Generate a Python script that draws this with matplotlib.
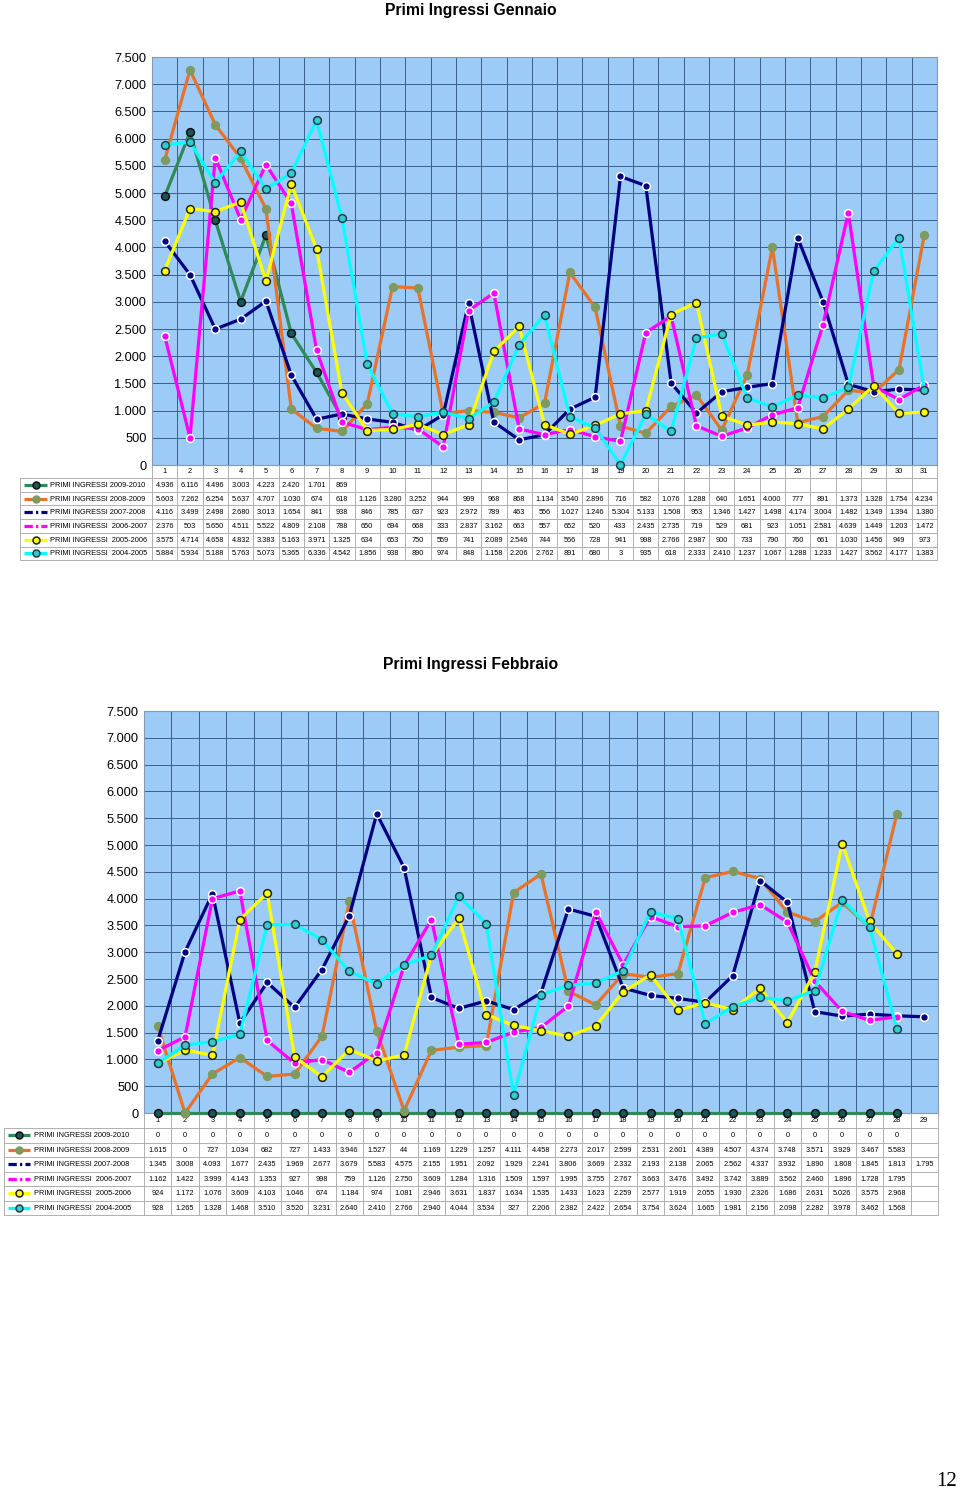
import matplotlib.pyplot as plt
import numpy as np

plt.rcParams['font.family'] = ['Liberation Sans', 'DejaVu Sans']

# ---- data ----
labels = ["PRIMI INGRESSI 2009-2010", "PRIMI INGRESSI 2008-2009", "PRIMI INGRESSI 2007-2008",
          "PRIMI INGRESSI  2006-2007", "PRIMI INGRESSI  2005-2006", "PRIMI INGRESSI  2004-2005"]

gen_0910 = [4936, 6116, 4496, 3003, 4223, 2420, 1701, 869]
gen_0809 = [5603, 7262, 6254, 5637, 4707, 1030, 674, 618, 1126, 3280, 3252, 944, 999, 968, 868, 1134,
            3540, 2896, 716, 582, 1076, 1288, 640, 1651, 4000, 777, 891, 1373, 1328, 1754, 4234]
gen_0708 = [4116, 3499, 2498, 2680, 3013, 1654, 841, 938, 846, 785, 637, 923, 2972, 789, 463, 556,
            1027, 1246, 5304, 5133, 1508, 953, 1346, 1427, 1498, 4174, 3004, 1482, 1349, 1394, 1380]
gen_0607 = [2376, 503, 5650, 4511, 5522, 4809, 2108, 788, 650, 694, 668, 333, 2837, 3162, 663, 557,
            652, 520, 433, 2435, 2735, 719, 529, 681, 923, 1051, 2581, 4639, 1449, 1203, 1472]
gen_0506 = [3575, 4714, 4658, 4832, 3383, 5163, 3971, 1325, 634, 653, 750, 559, 741, 2089, 2546, 744,
            566, 728, 941, 998, 2766, 2987, 900, 733, 790, 760, 661, 1030, 1456, 949, 973]
gen_0405 = [5884, 5934, 5188, 5763, 5073, 5365, 6336, 4542, 1856, 938, 890, 974, 848, 1158, 2206, 2762,
            891, 680, 3, 935, 618, 2333, 2410, 1237, 1067, 1288, 1233, 1427, 3562, 4177, 1383]

feb_0910 = [0] * 28
feb_0809 = [1615, 0, 727, 1034, 682, 727, 1433, 3946, 1527, 44, 1169, 1229, 1257, 4111, 4458, 2273,
            2017, 2599, 2531, 2601, 4389, 4507, 4374, 3748, 3571, 3929, 3467, 5583]
feb_0708 = [1345, 3008, 4093, 1677, 2435, 1969, 2677, 3679, 5583, 4575, 2155, 1951, 2092, 1929, 2241,
            3806, 3669, 2332, 2193, 2138, 2065, 2562, 4337, 3932, 1890, 1808, 1845, 1813, 1795]
feb_0607 = [1162, 1422, 3999, 4143, 1353, 927, 998, 759, 1126, 2750, 3609, 1284, 1316, 1509, 1597,
            1995, 3755, 2767, 3663, 3476, 3492, 3742, 3889, 3562, 2460, 1896, 1728, 1795]
feb_0506 = [924, 1172, 1076, 3609, 4103, 1046, 674, 1184, 974, 1081, 2946, 3631, 1837, 1634, 1535,
            1433, 1623, 2259, 2577, 1919, 2055, 1930, 2326, 1686, 2631, 5026, 3575, 2968]
feb_0405 = [928, 1265, 1328, 1468, 3510, 3520, 3231, 2640, 2410, 2766, 2940, 4044, 3534, 327, 2206,
            2382, 2422, 2654, 3754, 3624, 1665, 1981, 2156, 2098, 2282, 3978, 3462, 1568]

# line color, marker face, marker edge, legend line style
styles = [('#2E8B57', '#17585A', '#111111', '-'),
          ('#EA7128', '#7E9A5E', '#7E9A5E', '-'),
          ('#000080', '#000080', 'white', (0, (2.6, 1.0, 0.7, 1.0))),
          ('#FF00FF', '#FF00FF', 'white', (0, (2.6, 1.0, 0.7, 1.0))),
          ('#FFFF00', '#FFFF00', '#222222', '-'),
          ('#00FFFF', '#33CCCC', '#1F3F4F', '-')]

W, H = 960, 1492
fig = plt.figure(figsize=(W / 100, H / 100), dpi=100)

ov = fig.add_axes([0, 0, 1, 1])
ov.set_xlim(0, W)
ov.set_ylim(H, 0)
ov.axis('off')
ov.patch.set_visible(False)


def fmt(v):
    return f"{v:,}".replace(',', '.')


def chart(title, title_y, left, right, top, bottom, tbl_left, head_h, row_h, ncols, series,
          key_x0, key_x1, text_x):
    ov.text(471, title_y, title, ha='center', va='center', fontsize=11.3, fontweight='bold')
    ax = fig.add_axes([left / W, 1 - bottom / H, (right - left) / W, (bottom - top) / H])
    ax.set_facecolor('#9CCBF8')
    ax.set_xlim(0.5, ncols + 0.5)
    ax.set_ylim(0, 7500)
    ax.set_yticks(np.arange(0, 7501, 500))
    ax.set_yticklabels([fmt(v) for v in range(0, 7501, 500)], fontsize=9.2)
    ax.set_xticks(np.arange(1.5, ncols, 1))
    ax.set_xticklabels([])
    ax.tick_params(axis='both', length=0, pad=4)
    ax.grid(True, color='#3A5F86', linewidth=0.7)
    ax.set_axisbelow(True)
    for s in ax.spines.values():
        s.set_color('#8A9AAA')
        s.set_linewidth(0.8)
    for vals, (lc, mf, me, ls) in zip(series, styles):
        x = np.arange(1, len(vals) + 1)
        ax.plot(x, vals, color=lc, linewidth=2.3, marker='o', markersize=5.6,
                markerfacecolor=mf, markeredgecolor=me, markeredgewidth=1.1, clip_on=False,
                zorder=3)

    # table
    cw = (right - left) / ncols
    nrows = len(series)
    t_top = bottom + head_h
    t_bot = t_top + nrows * row_h
    gc = '#B0B0B0'
    for i in range(ncols + 1):
        xx = left + i * cw
        ov.plot([xx, xx], [bottom, t_bot], color=gc, linewidth=0.7)
        if i < ncols:
            ov.text(xx + cw / 2, bottom + head_h / 2, str(i + 1), ha='center', va='center',
                    fontsize=5.4)
    ov.plot([tbl_left, tbl_left], [t_top, t_bot], color=gc, linewidth=0.7)
    for r in range(nrows + 1):
        yy = t_top + r * row_h
        ov.plot([tbl_left, right], [yy, yy], color=gc, linewidth=0.7)
    for r, (vals, (lc, mf, me, ls), lab) in enumerate(zip(series, styles, labels)):
        yc = t_top + (r + 0.5) * row_h
        ov.plot([key_x0, key_x1], [yc, yc], color=lc, linewidth=2.3, linestyle=ls,
                solid_capstyle='butt', dash_capstyle='butt')
        if r not in (2, 3):
            ov.plot([(key_x0 + key_x1) / 2], [yc], marker='o', markersize=5.0,
                    markerfacecolor=mf, markeredgecolor=me, markeredgewidth=1.1)
        ov.text(text_x, yc + 0.5, lab, ha='left', va='center', fontsize=5.3)
        for i, v in enumerate(vals):
            ov.text(left + (i + 0.5) * cw, yc + 0.5, fmt(v), ha='center', va='center',
                    fontsize=5.3)
    return ax


chart("Primi Ingressi Gennaio", 10, 152, 937, 57, 465, 20, 13, 13.7, 31,
      [gen_0910, gen_0809, gen_0708, gen_0607, gen_0506, gen_0405], 24, 47, 50)
chart("Primi Ingressi Febbraio", 664, 144, 938, 711, 1113, 4, 15, 14.5, 29,
      [feb_0910, feb_0809, feb_0708, feb_0607, feb_0506, feb_0405], 8, 30, 34)

ov.text(957, 1481, "12", ha='right', va='center', fontsize=15,
        family=['Liberation Serif', 'DejaVu Serif'])

fig.savefig('out.png', dpi=100)
